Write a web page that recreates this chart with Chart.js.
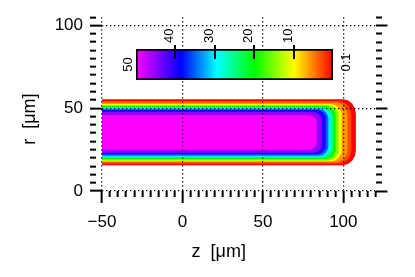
<!DOCTYPE html>
<html lang="en">
<head>
  <meta charset="UTF-8" />
  <title>r-z field map</title>
  <style>
    body { margin: 0; background: #fff; }
    #wrap { position: relative; width: 415px; height: 277px; }
    #cbar { position: absolute; left: 110px; top: 18px; }
  </style>
</head>
<body>
<div id="wrap">
  <canvas id="main" width="415" height="277"></canvas>
  <canvas id="cbar" width="250" height="80"></canvas>
</div>

<script src="https://cdn.jsdelivr.net/npm/chart.js"></script>
<script>
  // contour levels of the field, outer (low) to inner (high)
  const levels  = [0.1, 3, 6, 10, 15, 20, 25, 30, 35, 40, 45, 50];
  // upper / lower edge in r and right edge in z of each level region
  const rTop    = [55.5, 54.3, 53.4, 52.5, 51.9, 51.3, 50.7, 50.1, 49.5, 48.9, 47.7, 45.9];
  const rBottom = [15.6, 16.5, 17.3, 17.9, 18.5, 19.3, 19.9, 20.7, 21.3, 22.2, 23.1, 24.9];
  const zRight  = [107.8, 105.0, 102.6, 99.1, 97.3, 95.4, 93.8, 92.3, 90.7, 89.2, 86.7, 83.6];
  // size of the rounded right-hand corners
  const cornerZ = [8, 7.6, 7.2, 6.8, 6.5, 6.3, 6.1, 5.9, 5.7, 5.5, 5.2, 5];
  const cornerR = [9, 8.5, 8, 7.5, 7.2, 7, 6.8, 6.5, 6.2, 6, 5.6, 5.2];
  const zStart = -60; // field continues left of the axis

  // colour bar
  const cbRange = [0.1, 50];
  const cbTicks = [40, 30, 20, 10];
  const cbEndLabels = ['50', '0.1'];

  // colour scale: value -> colour
  const cmapStops = [0.1, 10, 20, 29.5, 38.5, 50];
  const cmapRGB = [[255,0,0], [255,255,0], [0,255,0], [0,255,255], [0,0,255], [255,0,255]];

  function cmap(v) {
    if (v <= cmapStops[0]) return 'rgb(' + cmapRGB[0].join(',') + ')';
    for (let i = 1; i < cmapStops.length; i++) {
      if (v <= cmapStops[i]) {
        const t = (v - cmapStops[i-1]) / (cmapStops[i] - cmapStops[i-1]);
        const c = cmapRGB[i-1].map((a, k) => Math.round(a + (cmapRGB[i][k] - a) * t));
        return 'rgb(' + c.join(',') + ')';
      }
    }
    return 'rgb(' + cmapRGB[cmapRGB.length-1].join(',') + ')';
  }

  Chart.defaults.font.family = '"Liberation Sans", Arial, sans-serif';
  Chart.defaults.color = '#000';

  const isMajor = v => Math.abs(v % 50) < 1e-6;
  const gridColor = c => (c.tick && isMajor(c.tick.value)) ? '#000' : 'rgba(0,0,0,0)';
  const tickDash = c => (c.tick && isMajor(c.tick.value)) ? [] : [6, 40];
  const majorLabel = v => isMajor(v) ? (v < 0 ? '\u2212' + Math.abs(v) : String(v)) : '';

  // outline of one level region: straight edges, quarter-round right corners
  const arcAngles = [0, 1, 2, 3, 4].map(k => k * Math.PI / 8);
  function outline(i) {
    const cz = cornerZ[i], cr = cornerR[i];
    const cx = zRight[i] - cz;
    const pts = [{x: zStart, y: rBottom[i]}];
    arcAngles.forEach(a => pts.push({x: cx + cz * Math.sin(a), y: rBottom[i] + cr - cr * Math.cos(a)}));
    arcAngles.forEach(a => pts.push({x: cx + cz * Math.cos(a), y: rTop[i] - cr + cr * Math.sin(a)}));
    pts.push({x: zStart, y: rTop[i]});
    return pts;
  }

  const datasets = levels.map((lv, i) => ({
    data: outline(i),
    backgroundColor: cmap(lv),
    borderColor: 'rgba(0,0,0,0)',
    borderWidth: 0,
    pointRadius: 0,
    fill: 'shape',
    order: levels.length - i
  }));

  new Chart(document.getElementById('main'), {
    type: 'line',
    data: { datasets },
    options: {
      responsive: false,
      animation: false,
      layout: { padding: { top: 16, left: 0, right: 0, bottom: 0 } },
      plugins: { legend: { display: false }, tooltip: { enabled: false } },
      scales: {
        x: {
          type: 'linear', min: -50, max: 120,
          afterFit: s => { s.height = 86; },
          ticks: { stepSize: 5, autoSkip: false, maxRotation: 0, padding: 9,
                   font: { size: 17 }, callback: majorLabel },
          grid: { z: 1, color: gridColor, lineWidth: 1.3, tickLength: 12,
                  tickColor: '#000', tickWidth: 2, tickBorderDash: tickDash },
          border: { display: false, dash: [1.3, 2.7] },
          title: { display: true, text: 'z  [\u03bcm]' + '\u00a0'.repeat(8),
                   font: { size: 18 }, padding: { top: 0, bottom: 14 } }
        },
        y: {
          type: 'linear', min: 0, max: 105, position: 'left',
          afterFit: s => { s.width = 102; },
          ticks: { stepSize: 5, autoSkip: false, padding: 7,
                   font: { size: 17 }, callback: majorLabel },
          grid: { z: 1, color: gridColor, lineWidth: 1.3, tickLength: 12,
                  tickColor: '#000', tickWidth: 2, tickBorderDash: tickDash },
          border: { display: false, dash: [1.3, 2.7] },
          title: { display: true, text: 'r  [\u03bcm]' + '\u00a0'.repeat(6),
                   font: { size: 18 }, padding: { top: 19, bottom: 0 } }
        },
        y2: {
          type: 'linear', min: 0, max: 105, position: 'right',
          afterFit: s => { s.width = 39.5; },
          ticks: { stepSize: 5, autoSkip: false, display: false },
          grid: { z: 1, drawOnChartArea: false, tickLength: 12,
                  tickColor: '#000', tickWidth: 2, tickBorderDash: tickDash },
          border: { display: false }
        }
      }
    }
  });

  // colour bar as a floating bar with gradient fill
  const cbarSideLabels = {
    id: 'cbarSideLabels',
    afterDraw(chart) {
      const {ctx, chartArea, scales} = chart;
      const yMid = (chartArea.top + chartArea.bottom) / 2;
      const pos = [scales.x.getPixelForValue(cbRange[1]) - 8, scales.x.getPixelForValue(cbRange[0]) + 13];
      ctx.save();
      ctx.font = '13px "Liberation Sans", Arial, sans-serif';
      ctx.fillStyle = '#000';
      ctx.textAlign = 'center';
      ctx.textBaseline = 'middle';
      cbEndLabels.forEach((t, i) => {
        ctx.save();
        ctx.translate(pos[i], yMid - (i ? 2 : 0));
        ctx.rotate(-Math.PI / 2);
        ctx.fillText(t, 0, 0);
        ctx.restore();
      });
      ctx.restore();
    }
  };

  function cbarFill(c) {
    const chart = c.chart;
    if (!chart.chartArea) return null;
    const xs = chart.scales.x;
    const x0 = xs.getPixelForValue(cbRange[0]);
    const x1 = xs.getPixelForValue(cbRange[1]);
    const g = chart.ctx.createLinearGradient(x0, 0, x1, 0);
    cmapStops.forEach(v => {
      g.addColorStop((v - cbRange[0]) / (cbRange[1] - cbRange[0]), cmap(v));
    });
    return g;
  }

  new Chart(document.getElementById('cbar'), {
    type: 'bar',
    data: {
      labels: [''],
      datasets: [{
        data: [cbRange],
        backgroundColor: cbarFill,
        borderColor: '#000',
        borderWidth: 2,
        borderSkipped: false,
        barPercentage: 1,
        categoryPercentage: 1
      }]
    },
    options: {
      responsive: false,
      animation: false,
      indexAxis: 'y',
      layout: { padding: { top: 0, left: 26, right: 27, bottom: 18 } },
      plugins: { legend: { display: false }, tooltip: { enabled: false } },
      scales: {
        x: {
          type: 'linear', position: 'top', reverse: true,
          min: cbRange[0], max: cbRange[1],
          afterFit: s => { s.height = 31; },
          afterBuildTicks: s => { s.ticks = cbTicks.map(v => ({ value: v })); },
          ticks: { minRotation: 90, maxRotation: 90, autoSkip: false, padding: 2,
                   labelOffset: 10, font: { size: 13 } },
          grid: { z: 1, color: '#000', lineWidth: 2, tickLength: 4,
                  tickColor: '#000', tickWidth: 2 },
          border: { display: false, dash: [10, 100] }
        },
        y: { display: false }
      }
    },
    plugins: [cbarSideLabels]
  });
</script>
</body>
</html>
